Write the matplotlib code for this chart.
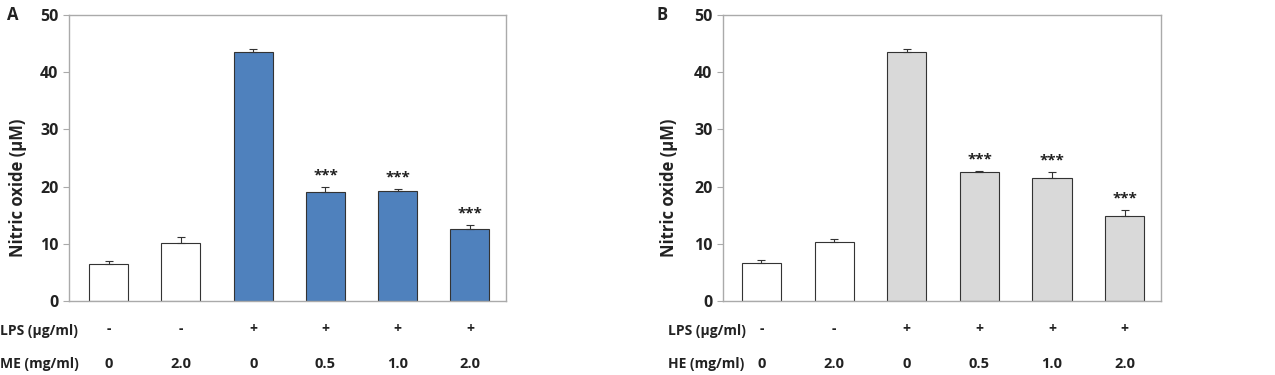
import matplotlib.pyplot as plt
import numpy as np

plt.rcParams['font.family'] = ['Open Sans', 'DejaVu Sans']
plt.rcParams['font.weight'] = 'bold'

# Data
lps_labels = ['-', '-', '+', '+', '+', '+']
dose_labels = ['0', '2.0', '0', '0.5', '1.0', '2.0']

me_values = [6.5, 10.1, 43.6, 19.0, 19.3, 12.6]
me_errors = [0.5, 1.1, 0.4, 1.0, 0.2, 0.7]

he_values = [6.6, 10.3, 43.6, 22.5, 21.5, 14.8]
he_errors = [0.5, 0.6, 0.4, 0.2, 1.1, 1.1]

signif = ['', '', '', '***', '***', '***']

fig = plt.figure(figsize=(12.75, 3.75), dpi=100)
W, H = 1275, 375
TXT = '#222222'


def draw_panel(left_px, right_px, values, errors, fill, letter, letter_x,
               ylab_x, row_x, dose_name, xlo):
    ax = fig.add_axes([left_px / W, (H - 301) / H,
                       (right_px - left_px) / W, (301 - 15) / H])
    x = np.arange(len(values))
    colors = ['white', 'white'] + [fill] * 4
    ax.bar(x, values, width=0.54, color=colors, edgecolor='#333333',
           linewidth=0.8, zorder=2)
    ax.errorbar(x, values, yerr=[np.zeros(len(errors)), errors], fmt='none',
                ecolor='#333333', elinewidth=0.8, capsize=3, capthick=0.8,
                zorder=3)
    for xi, v, e, s in zip(x, values, errors, signif):
        if s:
            ax.text(xi, v + e + 0.8, s, ha='center', va='bottom',
                    fontsize=11, fontweight='bold', color=TXT)
    ax.set_xlim(xlo, 5.5)
    ax.set_ylim(0, 50)
    ax.set_yticks([0, 10, 20, 30, 40, 50])
    ax.set_xticks([])
    for sp in ax.spines.values():
        sp.set_color('#aaaaaa')
        sp.set_linewidth(1.0)
    ax.tick_params(axis='y', direction='out', length=4, color='#aaaaaa',
                   labelsize=11.5, labelcolor=TXT)
    for lbl in ax.get_yticklabels():
        lbl.set_fontweight('bold')

    fig.text(ylab_x / W, 1 - 188 / H, 'Nitric oxide (µM)', rotation=90,
             ha='center', va='center', fontsize=12, fontweight='bold',
             color=TXT)
    fig.text(letter_x / W, 1 - 15 / H, letter, ha='left', va='center',
             fontsize=12, fontweight='bold', color=TXT)
    fig.text(row_x / W, 1 - 331 / H, 'LPS (µg/ml)', ha='left', va='center',
             fontsize=10, fontweight='bold', color=TXT)
    fig.text(row_x / W, 1 - 364 / H, dose_name, ha='left', va='center',
             fontsize=10, fontweight='bold', color=TXT)
    for xi, lp, d in zip(x, lps_labels, dose_labels):
        xd = ax.transData.transform((xi, 0))[0]
        xf = fig.transFigure.inverted().transform((xd, 0))[0]
        fig.text(xf, 1 - 329 / H, lp, ha='center', va='center',
                 fontsize=10, fontweight='bold', color=TXT)
        fig.text(xf, 1 - 364 / H, d, ha='center', va='center',
                 fontsize=10.5, fontweight='bold', color=TXT)
    return ax


draw_panel(69, 506, me_values, me_errors, '#4F81BD', 'A', 7, 18, 0,
           'ME (mg/ml)', -0.55)
draw_panel(723, 1161, he_values, he_errors, '#D9D9D9', 'B', 656, 669, 668,
           'HE (mg/ml)', -0.53)

fig.savefig('out.png', dpi=100)
